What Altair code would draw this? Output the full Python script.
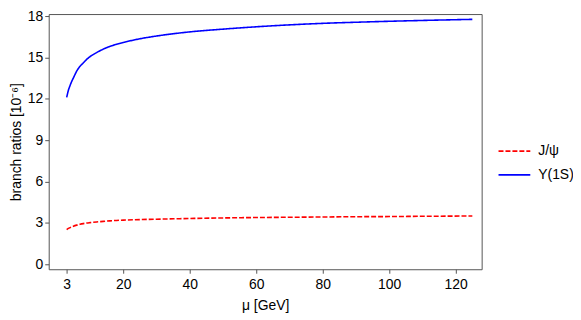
import altair as alt
import pandas as pd

mu = [3, 3.5, 4, 4.5, 5, 6, 7, 8, 9, 10, 12, 14, 16, 18, 20, 25, 30, 40, 50, 60, 70, 80, 90, 100, 110, 125]
upsilon = [12.1, 12.6, 12.95, 13.25, 13.5, 14.0, 14.35, 14.6, 14.85, 15.05, 15.35, 15.6, 15.8,
           15.95, 16.08, 16.35, 16.55, 16.85, 17.05, 17.22, 17.36, 17.47, 17.55, 17.62, 17.68, 17.76]
jpsi = [2.52, 2.6, 2.66, 2.71, 2.76, 2.84, 2.9, 2.95, 2.99, 3.02, 3.07, 3.11, 3.15,
        3.18, 3.2, 3.24, 3.27, 3.32, 3.36, 3.39, 3.41, 3.43, 3.45, 3.46, 3.48, 3.5]
series_names = ["J/ψ", "Υ(1S)"]
x_ticks = [3, 20, 40, 60, 80, 100, 120]
y_ticks = [0, 3, 6, 9, 12, 15, 18]

rows = []
for m, v in zip(mu, jpsi):
    rows.append({"mu": m, "br": v, "series": series_names[0]})
for m, v in zip(mu, upsilon):
    rows.append({"mu": m, "br": v, "series": series_names[1]})
df = pd.DataFrame(rows)

font = "Liberation Sans"

def legend():
    return alt.Legend(title=None, orient="none", legendX=452, legendY=121,
                      symbolType="stroke", symbolSize=1024,
                      symbolStrokeWidth=1.6, labelFontSize=14,
                      labelFont=font, labelColor="black",
                      rowPadding=-10, labelOffset=7)

chart = alt.Chart(df).mark_line(strokeWidth=1.6, interpolate="monotone").encode(
    x=alt.X("mu:Q", scale=alt.Scale(domain=[-2.4, 127.8], nice=False, zero=False),
            axis=alt.Axis(values=x_ticks, title="μ [GeV]", grid=False)),
    y=alt.Y("br:Q", scale=alt.Scale(domain=[-0.36, 18.144], nice=False, zero=False),
            axis=alt.Axis(values=y_ticks, title="branch ratios [10⁻⁶]", grid=False)),
    color=alt.Color("series:N", sort=series_names,
                    scale=alt.Scale(domain=series_names, range=["#ff0000", "#0000ff"]),
                    legend=legend()),
    strokeDash=alt.StrokeDash("series:N", sort=series_names,
                              scale=alt.Scale(domain=series_names, range=[[5, 2], [1, 0]]),
                              legend=legend()),
).properties(
    width=436, height=257,
    autosize=alt.AutoSizeParams(type="none"),
    padding={"left": 41, "top": 5, "right": 92, "bottom": 48},
).configure_view(
    stroke="#555555", strokeWidth=1
).configure_axis(
    domain=False, tickColor="#555555", tickSize=4, labelFont=font, titleFont=font,
    labelFontSize=14, titleFontSize=14, labelColor="black", titleColor="black",
    titleFontWeight="normal"
).configure_axisY(labelPadding=2, titlePadding=4).configure_axisX(labelPadding=4, titlePadding=8)

chart.save("out.html", embed_options={"renderer": "svg", "actions": False})
